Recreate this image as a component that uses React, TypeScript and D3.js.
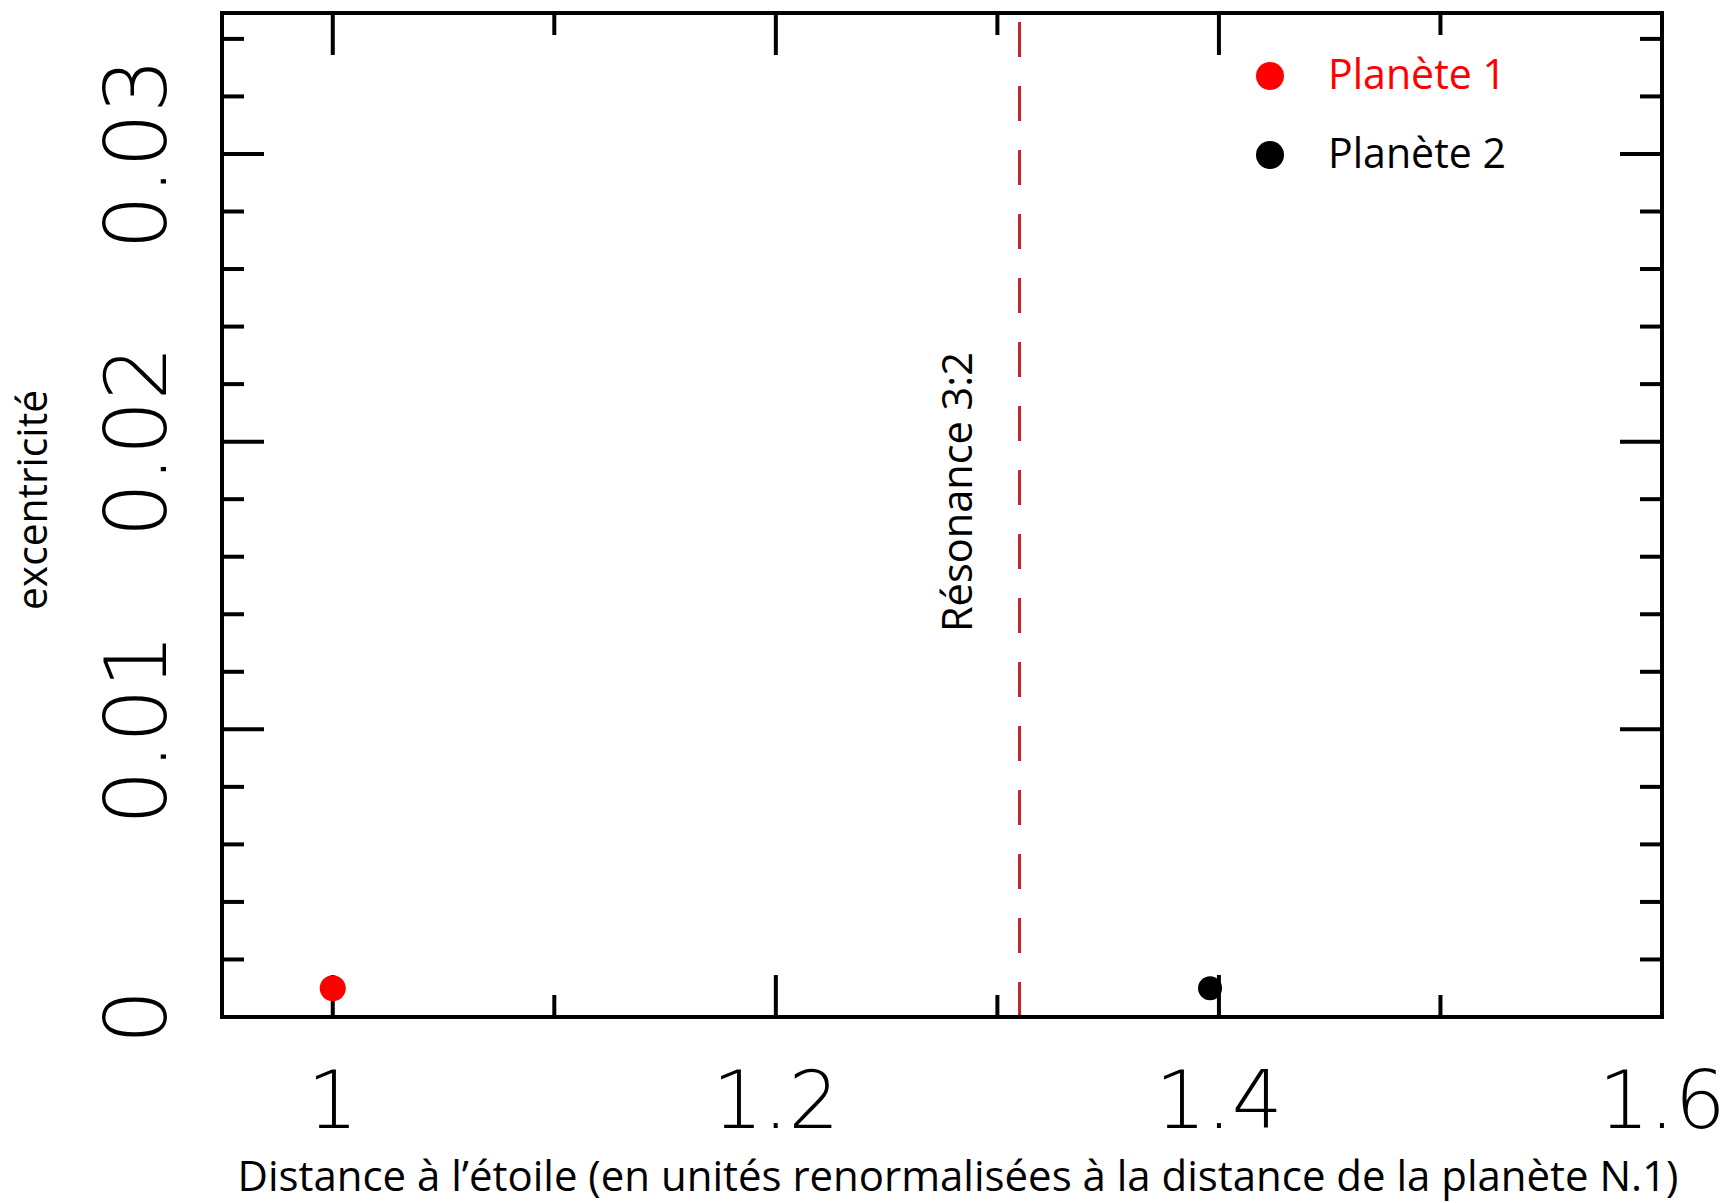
import React from "react";
import * as d3 from "d3";

// planet positions (distance normalised to planet 1, eccentricity)
const planetNames = ["Planète 1", "Planète 2"];
const planetColors = ["#ff0000", "#000000"];
const distances = [1.0, 1.396];
const eccentricities = [0.001, 0.001];

const resonanceX = 1.31;
const resonanceLabel = "Résonance 3:2";

const xMajorTicks = [1, 1.2, 1.4, 1.6];
const xMinorTicks = [1.1, 1.3, 1.5];
const xTickLabels = ["1", "1.2", "1.4", "1.6"];
const yMajorTicks = [0, 0.01, 0.02, 0.03];
const yMinorTicks = [0.002, 0.004, 0.006, 0.008, 0.012, 0.014, 0.016, 0.018, 0.022, 0.024, 0.026, 0.028, 0.032, 0.034];
const yTickLabels = ["0", "0.01", "0.02", "0.03"];

const xTitle = "Distance à l’étoile (en unités renormalisées à la distance de la planète N.1)";
const yTitle = "excentricité";

const W = 1731;
const H = 1203;
const plot = { left: 222, right: 1662, top: 13, bottom: 1017 };
const textFont = "'Open Sans', 'Noto Sans', sans-serif";
const tickFont = "'DejaVu Sans', sans-serif";

export default function App() {
  const x = d3.scaleLinear().domain([0.95, 1.6]).range([plot.left, plot.right]);
  const y = d3.scaleLinear().domain([0, 0.0349]).range([plot.bottom, plot.top]);

  const major = 42;
  const minor = 22;

  return (
    <svg width={W} height={H} style={{ position: "absolute", left: 0, top: 0, background: "#fff" }}>
      {/* resonance line */}
      <line
        x1={x(resonanceX)} x2={x(resonanceX)} y1={plot.top} y2={plot.bottom}
        stroke="#c0262c" strokeWidth={3} strokeDasharray="35,29" strokeDashoffset={-9}
      />
      <text
        transform={`translate(972,492) rotate(-90)`}
        textAnchor="middle" fontFamily={textFont} fontSize={42}
        textLength={280} lengthAdjust="spacingAndGlyphs"
      >{resonanceLabel}</text>

      {/* ticks, inward on all four sides */}
      <g stroke="#000" strokeWidth={4}>
        {xMajorTicks.map(t => (
          <g key={"xM" + t}>
            <line x1={x(t)} x2={x(t)} y1={plot.bottom} y2={plot.bottom - major} />
            <line x1={x(t)} x2={x(t)} y1={plot.top} y2={plot.top + major} />
          </g>
        ))}
        {xMinorTicks.map(t => (
          <g key={"xm" + t}>
            <line x1={x(t)} x2={x(t)} y1={plot.bottom} y2={plot.bottom - minor} />
            <line x1={x(t)} x2={x(t)} y1={plot.top} y2={plot.top + minor} />
          </g>
        ))}
        {yMajorTicks.map(t => (
          <g key={"yM" + t}>
            <line x1={plot.left} x2={plot.left + major} y1={y(t)} y2={y(t)} />
            <line x1={plot.right} x2={plot.right - major} y1={y(t)} y2={y(t)} />
          </g>
        ))}
        {yMinorTicks.map(t => (
          <g key={"ym" + t}>
            <line x1={plot.left} x2={plot.left + minor} y1={y(t)} y2={y(t)} />
            <line x1={plot.right} x2={plot.right - minor} y1={y(t)} y2={y(t)} />
          </g>
        ))}
      </g>

      {/* frame */}
      <rect
        x={plot.left} y={plot.top} width={plot.right - plot.left} height={plot.bottom - plot.top}
        fill="none" stroke="#000" strokeWidth={4}
      />

      {/* tick labels */}
      {xMajorTicks.map((t, i) => (
        <text key={"xl" + t} x={x(t)} y={1128} textAnchor="middle"
          fontFamily={tickFont} fontWeight={200} fontSize={80} fill="#000">{xTickLabels[i]}</text>
      ))}
      {yMajorTicks.map((t, i) => (
        <text key={"yl" + t} transform={`translate(166,${y(t)}) rotate(-90)`} textAnchor="middle"
          fontFamily={tickFont} fontWeight={200} fontSize={86} fill="#000">{yTickLabels[i]}</text>
      ))}

      {/* axis titles */}
      <text x={958} y={1191} textAnchor="middle" fontFamily={textFont} fontSize={42}
        textLength={1441} lengthAdjust="spacingAndGlyphs">{xTitle}</text>
      <text transform="translate(47,500) rotate(-90)" textAnchor="middle" fontFamily={textFont} fontSize={42}
        textLength={220} lengthAdjust="spacingAndGlyphs">{yTitle}</text>

      {/* planets */}
      {distances.map((d, i) => (
        <circle key={"p" + i} cx={x(d)} cy={y(eccentricities[i])} r={i === 0 ? 13 : 12} fill={planetColors[i]} />
      ))}

      {/* legend */}
      {planetNames.map((name, i) => (
        <g key={"lg" + i} transform={`translate(1270,${76 + i * 79})`}>
          <circle cx={0} cy={0} r={14} fill={planetColors[i]} />
          <text x={58} y={13} fontFamily={textFont} fontSize={42} fill={planetColors[i]}
            textLength={178} lengthAdjust="spacingAndGlyphs">{name}</text>
        </g>
      ))}
    </svg>
  );
}
